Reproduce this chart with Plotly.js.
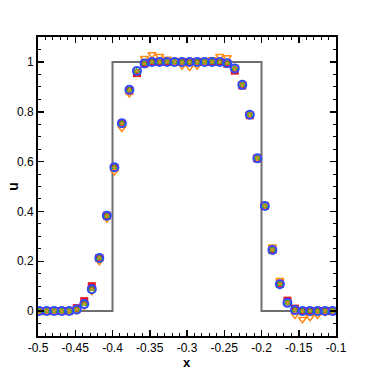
<!DOCTYPE html>
<html>
<head>
<meta charset="utf-8">
<script src="https://cdn.plot.ly/plotly-3.0.1.min.js"></script>
<style>
  html, body { margin: 0; padding: 0; background: #fff; }
  #chart { width: 374px; height: 374px; }
</style>
</head>
<body>
<div id="chart"></div>
<script>
// cell positions
const xs = [-0.4985,-0.4884,-0.4783,-0.4682,-0.4581,-0.4480,-0.4379,-0.4278,-0.4177,-0.4076,
            -0.3975,-0.3874,-0.3773,-0.3672,-0.3571,-0.3470,-0.3369,-0.3268,-0.3167,-0.3066,
            -0.2965,-0.2864,-0.2763,-0.2662,-0.2561,-0.2460,-0.2359,-0.2258,-0.2157,-0.2056,
            -0.1955,-0.1854,-0.1753,-0.1652,-0.1551,-0.1450,-0.1349,-0.1248,-0.1147,-0.1046];

// exact square wave
const exactX = [-0.5,-0.4,-0.4,-0.2,-0.2,-0.1];
const exactU = [0,0,1,1,0,0];

const uRed = [0,0,0,0,0,0.012,0.040,0.100,0.213,0.383,
              0.575,0.752,0.884,0.955,0.993,1,1,1,1,1,
              1,1,1,1,1,0.993,0.965,0.905,0.786,0.613,
              0.422,0.245,0.110,0.042,0.010,0,0,0,0,0];

const uOrange = [0,0,0,0,0,0.003,0.020,0.080,0.200,0.370,
                 0.560,0.735,0.873,0.958,1.015,1.030,1.023,1.012,1.000,0.985,
                 0.980,0.985,1.000,1.010,1.023,1.018,0.978,0.912,0.790,0.615,
                 0.425,0.258,0.124,0.035,-0.016,-0.033,-0.025,-0.016,-0.004,0];

const uGreen = [0,0,0,0,0,0.006,0.028,0.088,0.213,0.383,
                0.577,0.754,0.888,0.964,0.994,1,1,1,1,1,
                1,1,1,1,1,0.995,0.974,0.908,0.788,0.613,
                0.422,0.245,0.108,0.033,0.004,0,0,0,0,0];

const uBlue = [0,0,0,0,0,0.006,0.028,0.088,0.213,0.383,
               0.577,0.754,0.888,0.964,0.994,1,1,1,1,1,
               1,1,1,1,1,0.995,0.974,0.908,0.788,0.613,
               0.422,0.245,0.108,0.033,0.004,0,0,0,0,0];

const uDot = [0,0,0,0,0,0.006,0.028,0.088,0.213,0.383,
              0.577,0.754,0.888,0.964,0.994,1,1,1,1,1,
              1,1,1,1,1,0.995,0.974,0.908,0.788,0.613,
              0.422,0.245,0.108,0.033,0.004,0,0,0,0,0];

const xTicks = [-0.5,-0.45,-0.4,-0.35,-0.3,-0.25,-0.2,-0.15,-0.1];
const xTickText = ["-0.5","-0.45","-0.4","-0.35","-0.3","-0.25","-0.2","-0.15","-0.1"];
const yTicks = [0,0.2,0.4,0.6,0.8,1];
const yTickText = ["0","0.2","0.4","0.6","0.8","1"];

function drawChart() {
    const chartDiv = document.getElementById("chart");
    const font = 'Liberation Sans, Arial, sans-serif';

    const traces = [
        {
            x: exactX, y: exactU, mode: 'lines',
            line: { color: '#6e6e6e', width: 2 }
        },
        {
            x: xs, y: uRed, mode: 'markers',
            marker: { symbol: 'square', size: 8, color: '#e8141e' }
        },
        {
            x: xs, y: uOrange, mode: 'markers',
            marker: { symbol: 'triangle-down', size: 7, color: 'rgba(0,0,0,0)',
                      line: { color: '#ff8a14', width: 1.5 } }
        },
        {
            x: xs, y: uGreen, mode: 'markers',
            marker: { symbol: 'triangle-up', size: 7, color: '#19c02a' }
        },
        {
            x: xs, y: uBlue, mode: 'markers',
            marker: { symbol: 'circle', size: 8, color: 'rgba(0,0,0,0)',
                      line: { color: '#2f4cff', width: 2 } }
        },
        {
            x: xs, y: uDot, mode: 'markers',
            marker: { symbol: 'circle', size: 3.5, color: '#d98a2b' }
        }
    ];

    const axisCommon = {
        showgrid: false, zeroline: false,
        showline: true, linecolor: '#000', linewidth: 2, mirror: 'allticks',
        ticks: 'inside', ticklen: 6, tickwidth: 1.5, tickcolor: '#000',
        tickfont: { family: font, size: 12, color: '#000' }
    };

    const layout = {
        width: 374, height: 374,
        margin: { l: 38, r: 38, t: 37, b: 38 },
        paper_bgcolor: '#fff', plot_bgcolor: '#fff',
        showlegend: false,
        xaxis: Object.assign({}, axisCommon, {
            range: [-0.5, -0.1],
            tickmode: 'array', tickvals: xTicks, ticktext: xTickText,
            minor: { dtick: 0.01, tick0: -0.5, ticks: 'inside', ticklen: 3, tickcolor: '#000', tickwidth: 1 }
        }),
        yaxis: Object.assign({}, axisCommon, {
            range: [-0.1, 1.1],
            tickmode: 'array', tickvals: yTicks, ticktext: yTickText,
            minor: { dtick: 0.05, tick0: 0, ticks: 'inside', ticklen: 3, tickcolor: '#000', tickwidth: 1 }
        }),
        annotations: [
            { text: '<b>x</b>', xref: 'paper', yref: 'paper', x: 0.5, y: -0.09,
              xanchor: 'center', yanchor: 'middle', showarrow: false, borderpad: 0,
              font: { family: font, size: 13, color: '#000' } },
            { text: '<b>u</b>', xref: 'paper', yref: 'paper', x: -0.086, y: 0.5,
              xanchor: 'center', yanchor: 'middle', showarrow: false, textangle: -90,
              font: { family: font, size: 14, color: '#000' } }
        ]
    };

    Plotly.newPlot(chartDiv, traces, layout, { staticPlot: true });
}

window.addEventListener("load", drawChart);
</script>
</body>
</html>
